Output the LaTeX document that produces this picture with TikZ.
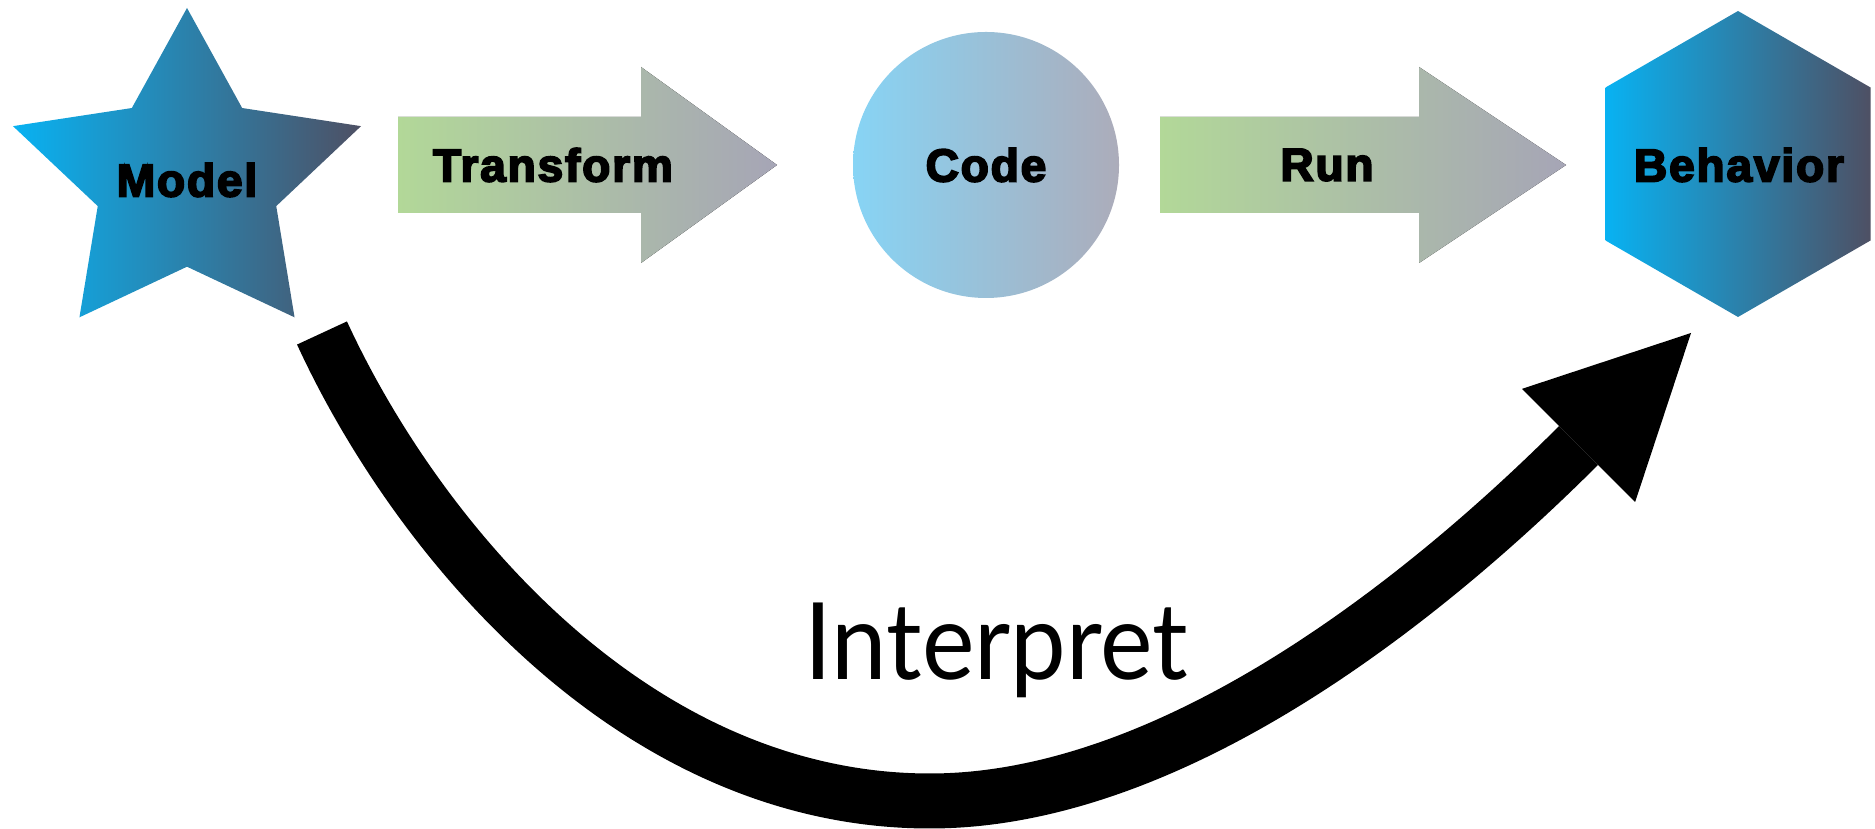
\documentclass[tikz,border=0pt]{standalone}
\usepackage{fontspec}
\usepackage{xcolor}
\usepackage{tikz}
\usetikzlibrary{arrows.meta,shapes.geometric}

\newfontfamily\labelfont[FakeBold=4,LetterSpace=4]{Liberation Sans}
\newfontfamily\interpfont[FakeStretch=0.93]{Lato}

\definecolor{blueleft}{RGB}{8,178,242}
\definecolor{blueright}{RGB}{78,80,100}
\definecolor{codeleft}{RGB}{135,212,245}
\definecolor{coderight}{RGB}{172,172,186}
\definecolor{greenleft}{RGB}{178,216,152}
\definecolor{greenright}{RGB}{166,165,182}

\begin{document}
\begin{tikzpicture}[
    x=0.1mm, y=-0.1mm,
    lbl/.style={font=\labelfont\bfseries\fontsize{13.1}{15}\selectfont, inner sep=0pt},
    bluefill/.style={left color=blueleft, right color=blueright, draw=none},
    starbox/.style={star, star points=5, star point ratio=1.95, minimum size=34.2mm, inner sep=0pt, bluefill},
    hexbox/.style={regular polygon, regular polygon sides=6, shape border rotate=30, minimum size=30.6mm, inner sep=0pt, bluefill},
    codebox/.style={circle, minimum size=26.6mm, inner sep=0pt, left color=codeleft, right color=coderight, draw=none},
    flowarrow/.style={left color=greenleft, right color=greenright, draw=none},
    interparrow/.style={line width=5.5mm, -{Triangle[length=15.9mm 0 0, width=16mm 0 0, line width=0pt]}}
]
\useasboundingbox (0,0) rectangle (1875,829);

% shapes
\node[starbox, xscale=1.07] (model) at (187,179) {};
\node[lbl] (modellbl) at (187,180) {Model};
\node[codebox, lbl] (code) at (986,165) {Code};
\node[hexbox] (behavior) at (1738,164) {};
\node[lbl] (behaviorlbl) at (1739,165) {Behavior};

% block arrows
\fill[flowarrow] (398,117) -- (641,117) -- (641,67) -- (777,165) -- (641,263) -- (641,213) -- (398,213) -- cycle;
\node[lbl] (transform) at (553,165) {Transform};
\fill[flowarrow] (1160,117) -- (1419,117) -- (1419,67) -- (1566,165) -- (1419,263) -- (1419,213) -- (1160,213) -- cycle;
\node[lbl] (run) at (1327,165) {Run};

% interpret arrow
\coordinate (tail) at (322,333);\coordinate (low) at (930,801);\coordinate (tip) at (1691,333);
\draw[interparrow] (tail) .. controls (414,533) and (630,801) .. (low) .. controls (1180,801) and (1437,587) .. (tip);
\node[font=\interpfont\fontsize{30.4}{34}\selectfont, inner sep=0pt, anchor=base west] (interpret) at (804,680) {Interpret};
\end{tikzpicture}
\end{document}
